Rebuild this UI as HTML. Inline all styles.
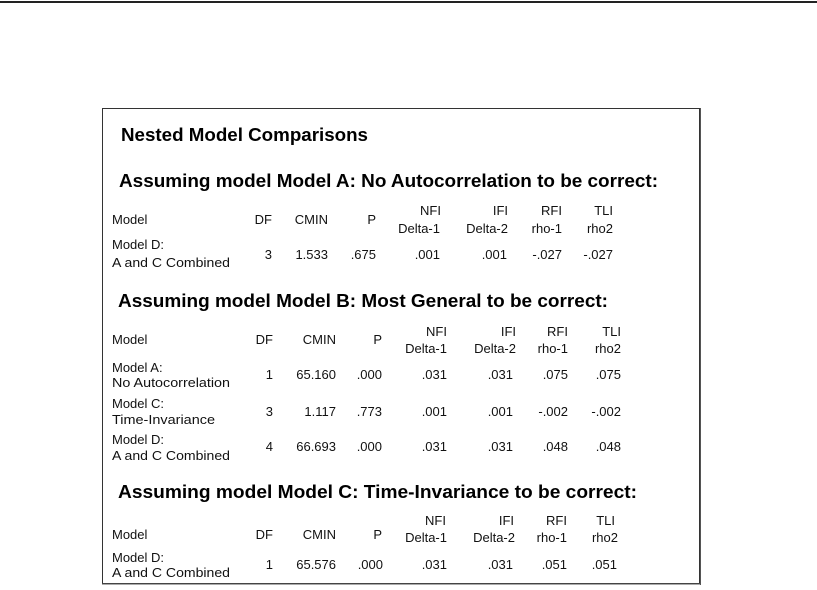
<!DOCTYPE html>
<html>
<head>
<meta charset="utf-8">
<style>
  html, body { margin: 0; padding: 0; background: #ffffff; }
  svg { display: block; }
  .h { font-family: "Liberation Sans", Arial, sans-serif; font-weight: bold; font-size: 18.9px; fill: #000; }
  .t { font-family: "Liberation Sans", Arial, sans-serif; font-size: 13px; fill: #111; }
  .e { text-anchor: end; }
</style>
</head>
<body>
<svg width="817" height="590" viewBox="0 0 817 590" xmlns="http://www.w3.org/2000/svg">
  <rect x="0" y="0" width="817" height="590" fill="#ffffff"/>
  <!-- top rule -->
  <rect x="0" y="1" width="817" height="2" fill="#222"/>
  <!-- box -->
  <rect x="102.5" y="108.5" width="597" height="475" fill="none" stroke="#333" stroke-width="1"/>
  <line x1="102" y1="584" x2="701" y2="584" stroke="#555" stroke-width="1"/>
  <line x1="700.5" y1="108" x2="700.5" y2="585" stroke="#555" stroke-width="1"/>

  <!-- headings -->
  <text class="h" x="121" y="141" textLength="247" lengthAdjust="spacingAndGlyphs">Nested Model Comparisons</text>
  <text class="h" x="119" y="187" textLength="539" lengthAdjust="spacingAndGlyphs">Assuming model Model A: No Autocorrelation to be correct:</text>
  <text class="h" x="118" y="307" textLength="490" lengthAdjust="spacingAndGlyphs">Assuming model Model B: Most General to be correct:</text>
  <text class="h" x="118" y="498" textLength="519" lengthAdjust="spacingAndGlyphs">Assuming model Model C: Time-Invariance to be correct:</text>

  <!-- Section A -->
  <text class="t" x="112" y="224">Model</text>
  <text class="t e" x="272" y="224">DF</text>
  <text class="t e" x="328" y="224">CMIN</text>
  <text class="t e" x="376" y="224">P</text>
  <text class="t e" x="441" y="215">NFI</text>
  <text class="t e" x="440" y="233">Delta-1</text>
  <text class="t e" x="508" y="215">IFI</text>
  <text class="t e" x="508" y="233">Delta-2</text>
  <text class="t e" x="562" y="215">RFI</text>
  <text class="t e" x="562" y="233">rho-1</text>
  <text class="t e" x="613" y="215">TLI</text>
  <text class="t e" x="613" y="233">rho2</text>

  <text class="t" x="112" y="249">Model D:</text>
  <text class="t" x="112" y="267" textLength="118" lengthAdjust="spacingAndGlyphs">A and C Combined</text>
  <text class="t e" x="272" y="259">3</text>
  <text class="t e" x="328" y="259">1.533</text>
  <text class="t e" x="376" y="259">.675</text>
  <text class="t e" x="440" y="259">.001</text>
  <text class="t e" x="507" y="259">.001</text>
  <text class="t e" x="562" y="259">-.027</text>
  <text class="t e" x="613" y="259">-.027</text>

  <!-- Section B -->
  <text class="t" x="112" y="344">Model</text>
  <text class="t e" x="273" y="344">DF</text>
  <text class="t e" x="336" y="344">CMIN</text>
  <text class="t e" x="382" y="344">P</text>
  <text class="t e" x="447" y="336">NFI</text>
  <text class="t e" x="447" y="353">Delta-1</text>
  <text class="t e" x="516" y="336">IFI</text>
  <text class="t e" x="516" y="353">Delta-2</text>
  <text class="t e" x="568" y="336">RFI</text>
  <text class="t e" x="568" y="353">rho-1</text>
  <text class="t e" x="621" y="336">TLI</text>
  <text class="t e" x="621" y="353">rho2</text>

  <text class="t" x="112" y="372">Model A:</text>
  <text class="t" x="112" y="387" textLength="118" lengthAdjust="spacingAndGlyphs">No Autocorrelation</text>
  <text class="t e" x="273" y="379">1</text>
  <text class="t e" x="336" y="379">65.160</text>
  <text class="t e" x="382" y="379">.000</text>
  <text class="t e" x="447" y="379">.031</text>
  <text class="t e" x="513" y="379">.031</text>
  <text class="t e" x="568" y="379">.075</text>
  <text class="t e" x="621" y="379">.075</text>

  <text class="t" x="112" y="408">Model C:</text>
  <text class="t" x="112" y="424" textLength="103" lengthAdjust="spacingAndGlyphs">Time-Invariance</text>
  <text class="t e" x="273" y="416">3</text>
  <text class="t e" x="336" y="416">1.117</text>
  <text class="t e" x="382" y="416">.773</text>
  <text class="t e" x="447" y="416">.001</text>
  <text class="t e" x="513" y="416">.001</text>
  <text class="t e" x="568" y="416">-.002</text>
  <text class="t e" x="621" y="416">-.002</text>

  <text class="t" x="112" y="444">Model D:</text>
  <text class="t" x="112" y="460" textLength="118" lengthAdjust="spacingAndGlyphs">A and C Combined</text>
  <text class="t e" x="273" y="451">4</text>
  <text class="t e" x="336" y="451">66.693</text>
  <text class="t e" x="382" y="451">.000</text>
  <text class="t e" x="447" y="451">.031</text>
  <text class="t e" x="513" y="451">.031</text>
  <text class="t e" x="568" y="451">.048</text>
  <text class="t e" x="621" y="451">.048</text>

  <!-- Section C -->
  <text class="t" x="112" y="539">Model</text>
  <text class="t e" x="273" y="539">DF</text>
  <text class="t e" x="336" y="539">CMIN</text>
  <text class="t e" x="382" y="539">P</text>
  <text class="t e" x="446" y="525">NFI</text>
  <text class="t e" x="447" y="542">Delta-1</text>
  <text class="t e" x="514" y="525">IFI</text>
  <text class="t e" x="515" y="542">Delta-2</text>
  <text class="t e" x="567" y="525">RFI</text>
  <text class="t e" x="567" y="542">rho-1</text>
  <text class="t e" x="615" y="525">TLI</text>
  <text class="t e" x="618" y="542">rho2</text>

  <text class="t" x="112" y="562">Model D:</text>
  <text class="t" x="112" y="577" textLength="118" lengthAdjust="spacingAndGlyphs">A and C Combined</text>
  <text class="t e" x="273" y="569">1</text>
  <text class="t e" x="336" y="569">65.576</text>
  <text class="t e" x="383" y="569">.000</text>
  <text class="t e" x="447" y="569">.031</text>
  <text class="t e" x="513" y="569">.031</text>
  <text class="t e" x="567" y="569">.051</text>
  <text class="t e" x="617" y="569">.051</text>
</svg>
</body>
</html>
